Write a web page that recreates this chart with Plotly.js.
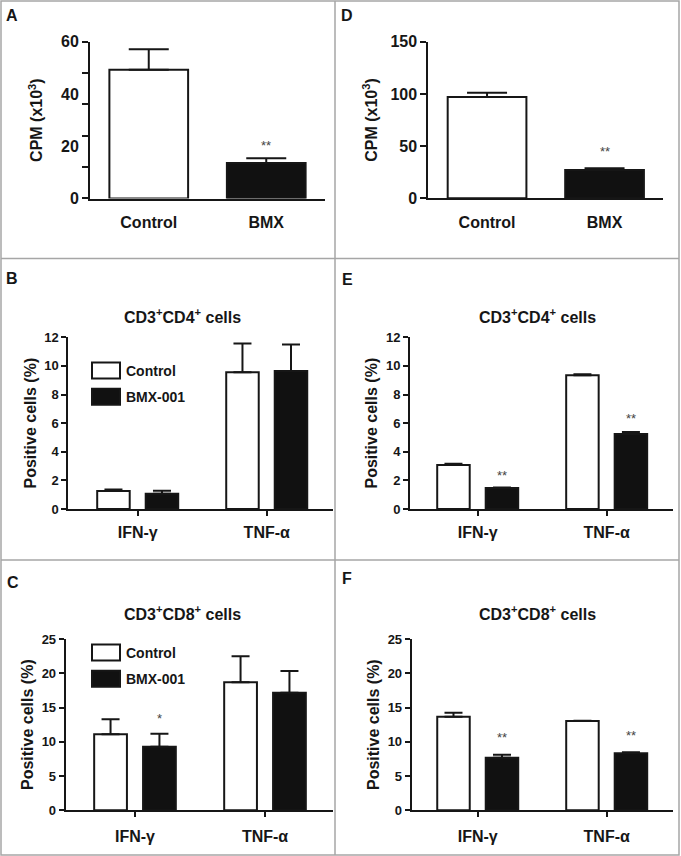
<!DOCTYPE html>
<html><head><meta charset="utf-8">
<script src="https://cdn.plot.ly/plotly-3.0.1.min.js"></script>
<style>html,body{margin:0;padding:0;background:#fff}#chart{width:681px;height:856px}</style>
</head><body><div id="chart"></div>
<script>
// ---------------- data ----------------
const cpmCategories = ['Control', 'BMX'];
const cpmA = [49.3, 13.6];
const cpmAErr = [7.8, 1.8];
const cpmASig = ['', '**'];
const cpmASigY = [null, 21.5];
const cpmAYTickLabels = [0, 20, 40, 60];
const cpmAYTickMarks = [0.01, 12, 24, 36, 48, 59.99];

const cpmD = [97.0, 27.1];
const cpmDErr = [4.1, 1.6];
const cpmDSig = ['', '**'];
const cpmDSigY = [null, 47.5];
const cpmDYTicks = [0, 50, 100, 150];

const cytokines = ['IFN-γ', 'TNF-α'];
const groupNames = ['Control', 'BMX-001'];

// B: CD3+CD4+ (left)
const cd4B_control = [1.26, 9.56];
const cd4B_controlErr = [0.11, 2.0];
const cd4B_bmx = [1.07, 9.65];
const cd4B_bmxErr = [0.21, 1.84];
const cd4B_bmxSig = ['', ''];
const cd4B_bmxSigY = [null, null];

// E: CD3+CD4+ (right)
const cd4E_control = [3.08, 9.35];
const cd4E_controlErr = [0.09, 0.07];
const cd4E_bmx = [1.47, 5.24];
const cd4E_bmxErr = [0.03, 0.14];
const cd4E_bmxSig = ['**', '**'];
const cd4E_bmxSigY = [2.56, 6.53];

// C: CD3+CD8+ (left)
const cd8C_control = [11.09, 18.68];
const cd8C_controlErr = [2.19, 3.79];
const cd8C_bmx = [9.29, 17.17];
const cd8C_bmxErr = [1.90, 3.16];
const cd8C_bmxSig = ['*', ''];
const cd8C_bmxSigY = [13.8, null];

// F: CD3+CD8+ (right)
const cd8F_control = [13.67, 13.04];
const cd8F_controlErr = [0.58, 0.04];
const cd8F_bmx = [7.68, 8.32];
const cd8F_bmxErr = [0.44, 0.14];
const cd8F_bmxSig = ['**', '**'];
const cd8F_bmxSigY = [11.09, 11.33];

const cd4YTicks = [0, 2, 4, 6, 8, 10, 12];
const cd8YTicks = [0, 5, 10, 15, 20, 25];

// ---------------- layout helpers ----------------
const W = 681, H = 856;
const px = v => v / W;
const py = v => 1 - v / H;
const FONT = 'Liberation Sans, Arial, sans-serif';
const INK = '#161616';
const BLACK = '#111111';

const barW2 = 0.252;   // grouped bar width (category units)
const half = 0.188;    // half distance between grouped bar centres

function xAx(d, range, withTicks, standoff) {
  return {
    domain: [px(d[0]), px(d[1])], range: range, type: 'category',
    showline: true, linecolor: INK, linewidth: 2,
    ticks: withTicks ? 'outside' : '', ticklen: 5, tickwidth: 2, tickcolor: INK,
    ticklabelstandoff: standoff,
    tickfont: {family: FONT, size: 16, weight: 'bold', color: INK},
    showgrid: false, zeroline: false, fixedrange: true
  };
}
function yAx(d, range, tickvals, title, fontSize, standoff, extra) {
  return Object.assign({
    domain: [py(d[1]), py(d[0])], range: range,
    showline: true, linecolor: INK, linewidth: 2,
    ticks: 'outside', ticklen: 5, tickwidth: 2, tickcolor: INK,
    tickmode: 'array', tickvals: tickvals,
    tickfont: {family: FONT, size: fontSize, weight: 'bold', color: INK},
    title: {text: title, standoff: standoff, font: {family: FONT, size: 16, weight: 'bold', color: INK}},
    showgrid: false, zeroline: false, fixedrange: true
  }, extra || {});
}

function errUp(arr, capHalf) {
  return {type: 'data', symmetric: false, array: arr, arrayminus: arr.map(() => 0),
          color: INK, thickness: 2, width: capHalf};
}

const traces = [];
// single-bar panels
function singlePanel(vals, err, xa, ya) {
  traces.push({
    type: 'bar', x: cpmCategories, y: vals, xaxis: xa, yaxis: ya, width: 0.67,
    marker: {color: ['#ffffff', BLACK], line: {color: INK, width: 2}},
    error_y: errUp(err, 20), showlegend: false, hoverinfo: 'skip'
  });
}
singlePanel(cpmA, cpmAErr, 'x', 'y');
singlePanel(cpmD, cpmDErr, 'x2', 'y2');

// grouped panels
function groupedPanel(ctrl, ctrlErr, bmx, bmxErr, xa, ya, legendId) {
  traces.push({
    type: 'bar', name: groupNames[0], x: cytokines, y: ctrl, xaxis: xa, yaxis: ya,
    offset: -half - barW2 / 2, width: barW2,
    marker: {color: '#ffffff', line: {color: INK, width: 2}},
    error_y: errUp(ctrlErr, 9),
    showlegend: !!legendId, legend: legendId || 'legend', legendgroup: xa + 'c', hoverinfo: 'skip'
  });
  traces.push({
    type: 'bar', name: groupNames[1], x: cytokines, y: bmx, xaxis: xa, yaxis: ya,
    offset: half - barW2 / 2, width: barW2,
    marker: {color: BLACK, line: {color: INK, width: 2}},
    error_y: errUp(bmxErr, 9),
    showlegend: !!legendId, legend: legendId || 'legend', legendgroup: xa + 'b', hoverinfo: 'skip'
  });
}
groupedPanel(cd4B_control, cd4B_controlErr, cd4B_bmx, cd4B_bmxErr, 'x3', 'y3', 'legend');
groupedPanel(cd4E_control, cd4E_controlErr, cd4E_bmx, cd4E_bmxErr, 'x4', 'y4', null);
groupedPanel(cd8C_control, cd8C_controlErr, cd8C_bmx, cd8C_bmxErr, 'x5', 'y5', 'legend2');
groupedPanel(cd8F_control, cd8F_controlErr, cd8F_bmx, cd8F_bmxErr, 'x6', 'y6', null);

// ---------------- annotations ----------------
const annotations = [];
function sigMarks(labels, ys, xOffset, xref, yref) {
  labels.forEach((t, i) => {
    if (!t) return;
    annotations.push({text: t, x: i + xOffset, y: ys[i], xref: xref, yref: yref,
      showarrow: false, yanchor: 'middle', yshift: -3,
      font: {family: FONT, size: 13, color: '#444'}});
  });
}
sigMarks(cpmASig, cpmASigY, 0, 'x', 'y');
sigMarks(cpmDSig, cpmDSigY, 0, 'x2', 'y2');
sigMarks(cd4B_bmxSig, cd4B_bmxSigY, half, 'x3', 'y3');
sigMarks(cd4E_bmxSig, cd4E_bmxSigY, half, 'x4', 'y4');
sigMarks(cd8C_bmxSig, cd8C_bmxSigY, half, 'x5', 'y5');
sigMarks(cd8F_bmxSig, cd8F_bmxSigY, half, 'x6', 'y6');

const panelLetters = [['A', 12, 15], ['D', 347, 15], ['B', 12, 278], ['E', 347, 280], ['C', 13, 582], ['F', 347, 578]];
panelLetters.forEach(([t, x, y]) => annotations.push({
  text: t, x: px(x), y: py(y), xref: 'paper', yref: 'paper', showarrow: false,
  xanchor: 'center', yanchor: 'middle', font: {family: FONT, size: 16, weight: 'bold', color: INK}}));

const panelTitles = [['CD3<sup>+</sup>CD4<sup>+</sup> cells', 183, 316], ['CD3<sup>+</sup>CD4<sup>+</sup> cells', 537, 316],
                     ['CD3<sup>+</sup>CD8<sup>+</sup> cells', 183, 613], ['CD3<sup>+</sup>CD8<sup>+</sup> cells', 537, 613]];
panelTitles.forEach(([t, x, y]) => annotations.push({
  text: t, x: px(x), y: py(y), xref: 'paper', yref: 'paper', showarrow: false,
  xanchor: 'center', yanchor: 'middle', font: {family: FONT, size: 16, weight: 'bold', color: INK}}));

// panel frame
const FR = '#a6a6a6';
const shapes = [
  {type: 'rect', xref: 'paper', yref: 'paper', x0: px(1), x1: px(679), y0: py(855), y1: py(1), line: {color: FR, width: 1.5}},
  {type: 'line', xref: 'paper', yref: 'paper', x0: px(335), x1: px(335), y0: py(855), y1: py(1), line: {color: FR, width: 1.5}},
  {type: 'line', xref: 'paper', yref: 'paper', x0: px(1), x1: px(679), y0: py(258.5), y1: py(258.5), line: {color: FR, width: 1.5}},
  {type: 'line', xref: 'paper', yref: 'paper', x0: px(1), x1: px(679), y0: py(560), y1: py(560), line: {color: FR, width: 1.5}}
];

const legendStyle = (top) => ({
  x: px(86), xanchor: 'left', y: py(top), yanchor: 'top',
  bgcolor: 'rgba(0,0,0,0)', borderwidth: 0, traceorder: 'grouped', tracegroupgap: 5,
  font: {family: FONT, size: 14, weight: 'bold', color: INK}
});

const layout = {
  width: W, height: H, margin: {l: 0, r: 0, t: 0, b: 0},
  paper_bgcolor: '#ffffff', plot_bgcolor: 'rgba(0,0,0,0)',
  showlegend: true, barmode: 'group',
  xaxis: xAx([90, 325], [-0.5, 1.5], false, 8),
  yaxis: yAx([41.7, 198.5], [0, 60], cpmAYTickLabels, 'CPM (x10<sup>3</sup>)', 16, 14,
    {tickcolor: 'rgba(0,0,0,0)', ticklen: 6,
     minor: {tickmode: 'array', tickvals: cpmAYTickMarks, ticks: 'outside', ticklen: 6, tickwidth: 2, tickcolor: INK, showgrid: false}}),
  xaxis2: xAx([428.3, 663.3], [-0.5, 1.5], false, 8),
  yaxis2: yAx([41.7, 198.3], [0, 150], cpmDYTicks, 'CPM (x10<sup>3</sup>)', 16, 9, {ticklen: 6}),
  xaxis3: xAx([68.3, 333.3], [-0.538, 1.516], true, 3),
  yaxis3: yAx([337.3, 509], [0, 12], cd4YTicks, 'Positive cells (%)', 13, 4),
  xaxis4: xAx([410, 672.7], [-0.525, 1.512], true, 3),
  yaxis4: yAx([337.3, 509], [0, 12], cd4YTicks, 'Positive cells (%)', 13, 4),
  xaxis5: xAx([65.7, 333], [-0.533, 1.523], true, 5),
  yaxis5: yAx([639, 810.3], [0, 25], cd8YTicks, 'Positive cells (%)', 13, 4),
  xaxis6: xAx([411.7, 673], [-0.512, 1.514], true, 5),
  yaxis6: yAx([639, 810.3], [0, 25], cd8YTicks, 'Positive cells (%)', 13, 4),
  legend: legendStyle(355),
  legend2: legendStyle(637),
  annotations: annotations, shapes: shapes
};
['', '2', '3', '4', '5', '6'].forEach(s => {
  layout['xaxis' + s].anchor = 'y' + s;
  layout['yaxis' + s].anchor = 'x' + s;
});

function enlargeLegendBoxes() {
  document.querySelectorAll('.legendpoints path').forEach(p => {
    const d = (p.getAttribute('d') || '').replace(/\s/g, '');
    if (d === 'M6,6H-6V-6H6Z') p.setAttribute('d', 'M14,8H-14V-8H14Z');
  });
}
Plotly.newPlot('chart', traces, layout, {staticPlot: true, displayModeBar: false}).then(() => {
  enlargeLegendBoxes();
  setTimeout(enlargeLegendBoxes, 0);
});
</script></body></html>
